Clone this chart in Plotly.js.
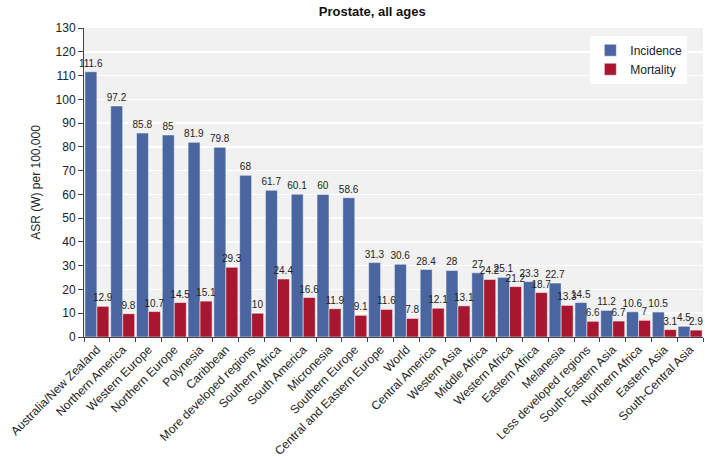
<!DOCTYPE html>
<html>
<head>
<meta charset="utf-8">
<script src="https://cdn.plot.ly/plotly-3.0.1.min.js"></script>
<style>html,body{margin:0;padding:0;background:#fff;}#chart{width:705px;height:457px;}</style>
</head>
<body>
<div id="chart"></div>
<script>
const regions = ["Australia/New Zealand","Northern America","Western Europe","Northern Europe","Polynesia","Caribbean","More developed regions","Southern Africa","South America","Micronesia","Southern Europe","Central and Eastern Europe","World","Central America","Western Asia","Middle Africa","Western Africa","Eastern Africa","Melanesia","Less developed regions","South-Eastern Asia","Northern Africa","Eastern Asia","South-Central Asia"];
const incidence = [111.6,97.2,85.8,85,81.9,79.8,68,61.7,60.1,60,58.6,31.3,30.6,28.4,28,27,25.1,23.3,22.7,14.5,11.2,10.6,10.5,4.5];
const mortality = [12.9,9.8,10.7,14.5,15.1,29.3,10,24.4,16.6,11.9,9.1,11.6,7.8,12.1,13.1,24.2,21.2,18.7,13.3,6.6,6.7,7,3.1,2.9];
const yTicks = [0,10,20,30,40,50,60,70,80,90,100,110,120,130];

const labelFont = {family: "Liberation Sans, Arial, sans-serif", size: 10, color: "#222"};
const traces = [
  {type: "bar", name: "Incidence", x: regions, y: incidence, text: incidence.map(String),
   textposition: "outside", cliponaxis: false, constraintext: "none", textfont: labelFont,
   marker: {color: "#4a66a0", line: {color: "#ffffff", width: 0.5}}, hoverinfo: "x+y"},
  {type: "bar", name: "Mortality", x: regions, y: mortality, text: mortality.map(String),
   textposition: "outside", cliponaxis: false, constraintext: "none", textfont: labelFont,
   marker: {color: "#a8172f", line: {color: "#ffffff", width: 0.5}}, hoverinfo: "x+y"}
];

const layout = {
  width: 705, height: 457,
  margin: {l: 84, r: 2, t: 28, b: 120},
  paper_bgcolor: "#ffffff", plot_bgcolor: "#f1f1f1",
  font: {family: "Liberation Sans, Arial, sans-serif", size: 12, color: "#333"},
  title: {text: "<b>Prostate, all ages</b>", x: 0.528, xanchor: "center", y: 0.985, yanchor: "top",
          font: {size: 13, color: "#111"}},
  barmode: "group", bargap: 0.07, bargroupgap: 0,
  showlegend: true,
  legend: {x: 0.818, y: 0.975, xanchor: "left", yanchor: "top", bgcolor: "#ffffff",
           font: {size: 12, color: "#222"}, traceorder: "normal", itemwidth: 30,
           borderwidth: 0, tracegroupgap: 0},
  xaxis: {type: "category", tickangle: -45, tickfont: {size: 12, color: "#222"},
          ticks: "outside", ticklen: 4, tickson: "boundaries", tickcolor: "#444",
          showline: true, linecolor: "#444", linewidth: 1, showgrid: false, automargin: false},
  yaxis: {range: [0, 130], tickvals: yTicks, ticktext: yTicks.map(String),
          ticks: "outside", ticklen: 5, tickcolor: "#444", tickfont: {size: 12, color: "#222"},
          showline: true, linecolor: "#444", linewidth: 1,
          gridcolor: "#ffffff", gridwidth: 1.5, zeroline: false,
          title: {text: "ASR (W) per 100,000", font: {size: 12, color: "#222"}, standoff: 12},
          automargin: false}
};

Plotly.newPlot("chart", traces, layout, {displayModeBar: false, staticPlot: true});
</script>
</body>
</html>
